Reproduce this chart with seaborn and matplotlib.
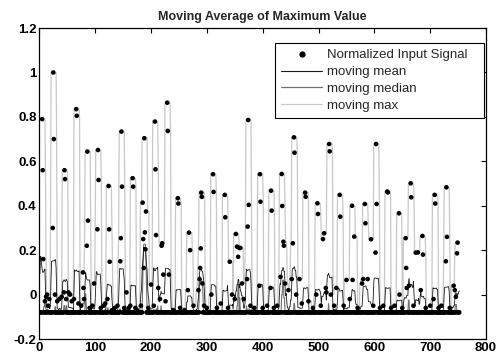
import numpy as np
import pandas as pd
import matplotlib
matplotlib.use("Agg")
import matplotlib.pyplot as plt
import seaborn as sns
from matplotlib.lines import Line2D

# --- data ---
n_samples = 752
baseline = -0.08
window = 10

event_idx = [5, 6, 7, 10, 12, 14, 16, 18, 24, 25, 26, 28, 32, 36, 40, 44, 45, 46, 48, 52,
             55, 58, 62, 66, 67, 70, 75, 78, 79, 80, 85, 86, 87, 90, 95, 98, 104, 105, 106, 110,
             115, 118, 122, 124, 125, 126, 130, 135, 140, 145, 146, 147, 148, 152, 156, 160, 163, 167, 168, 172,
             175, 182, 185, 186, 187, 188, 189, 190, 191, 195, 200, 205, 207, 208, 209, 213, 216, 219, 220, 222,
             226, 229, 230, 232, 240, 248, 249, 252, 260, 266, 268, 270, 276, 285, 287, 288, 289, 290, 291, 292,
             295, 300, 308, 311, 312, 318, 325, 332, 333, 338, 341, 345, 350, 352, 354, 356, 358, 360, 363, 366,
             372, 373, 374, 375, 378, 385, 394, 395, 396, 400, 408, 414, 415, 416, 420, 426, 432, 434, 435, 437,
             438, 440, 446, 452, 454, 456, 457, 460, 466, 470, 476, 477, 482, 490, 496, 498, 499, 504, 508, 510,
             513, 514, 519, 520, 522, 528, 532, 538, 539, 545, 550, 556, 560, 561, 564, 570, 578, 580, 583, 584,
             588, 594, 598, 602, 603, 604, 610, 616, 623, 624, 630, 636, 644, 645, 650, 656, 657, 658, 662, 665,
             666, 670, 674, 678, 683, 686, 687, 692, 700, 706, 708, 709, 715, 720, 728, 729, 730, 735, 742, 744,
             746, 748, 749]
event_val = [0.79, 0.56, 0.16, -0.03, -0.01, 0.0, -0.05, -0.02, 0.30, 1.00, 0.70, 0.0, -0.03, -0.02, -0.01, 0.01, 0.56, 0.52, -0.02, 0.01,
             0.0, -0.03, -0.02, 0.835, 0.805, -0.04, -0.05, 0.10, 0.03, -0.02, 0.22, 0.644, 0.333, -0.06, -0.05, 0.05, 0.294, 0.651, 0.516, -0.06,
             -0.05, -0.04, -0.02, 0.489, 0.294, 0.148, -0.07, -0.06, -0.05, 0.15, 0.254, 0.734, 0.486, -0.06, 0.01, -0.06, -0.05, 0.524, 0.486, -0.06,
             -0.07, -0.05, 0.414, 0.25, 0.12, 0.704, 0.28, 0.204, 0.374, -0.06, 0.045, -0.05, 0.779, 0.564, 0.268, 0.03, -0.02, 0.22, 0.231, 0.09,
             -0.03, 0.864, 0.737, 0.09, -0.07, 0.434, 0.41, -0.06, -0.07, 0.02, 0.279, 0.20, -0.05, 0.02, 0.07, 0.12, 0.208, 0.459, 0.44, 0.05,
             -0.05, -0.06, 0.0, 0.542, 0.462, -0.06, -0.04, 0.449, 0.348, -0.06, 0.148, 0.0, -0.02, 0.273, 0.216, 0.17, 0.21, 0.21, 0.05, -0.02,
             0.07, 0.306, 0.786, 0.404, -0.05, -0.06, 0.04, 0.542, 0.418, -0.06, -0.05, 0.03, 0.468, 0.378, -0.06, -0.05, 0.08, 0.543, 0.399, 0.238,
             0.22, 0.05, 0.02, 0.07, 0.231, 0.708, 0.639, 0.0, 0.07, -0.04, 0.459, 0.44, -0.03, -0.06, 0.0, 0.411, 0.363, -0.05, 0.25, 0.276,
             0.03, 0.01, 0.678, 0.645, 0.0, -0.05, 0.03, 0.449, 0.351, -0.05, 0.066, -0.02, 0.40, 0.066, 0.261, -0.06, 0.05, 0.07, 0.408, 0.321,
             0.07, 0.249, -0.05, 0.189, 0.678, 0.408, -0.06, -0.05, 0.464, 0.46, -0.06, -0.05, 0.366, 0.0, -0.06, 0.254, 0.12, 0.03, 0.04, 0.501,
             0.438, -0.05, 0.189, 0.19, 0.02, 0.264, 0.18, -0.06, -0.05, -0.02, 0.449, 0.41, -0.06, -0.05, 0.15, 0.483, 0.26, -0.06, 0.04, 0.02,
             -0.01, 0.186, 0.234]

x_ticks = [0, 100, 200, 300, 400, 500, 600, 700, 800]
y_ticks = [-0.2, 0, 0.2, 0.4, 0.6, 0.8, 1, 1.2]
y_labels = ["-0.2", "0", "0.2", "0.4", "0.6", "0.8", "1", "1.2"]

# build signal and moving statistics
idx = np.arange(1, n_samples + 1)
signal = pd.Series(np.full(n_samples, baseline), index=idx)
signal.loc[event_idx] = event_val
roll = signal.rolling(window, center=True, min_periods=1)
df = pd.DataFrame({"x": idx, "signal": signal.values,
                   "mean": roll.mean().values,
                   "median": roll.median().values,
                   "max": roll.max().values})

sns.set_style("white")
plt.rcParams["font.family"] = ["Liberation Sans", "DejaVu Sans"]

fig = plt.figure(figsize=(4.98, 3.55), dpi=100)
ax = fig.add_axes([0.079, 0.045, 0.897, 0.876])

c_max, c_med, c_mean = "#c8c8c8", "#707070", "#1a1a1a"
sns.lineplot(data=df, x="x", y="max", ax=ax, color=c_max, linewidth=0.9, estimator=None)
sns.lineplot(data=df, x="x", y="median", ax=ax, color=c_med, linewidth=0.8, estimator=None)
sns.lineplot(data=df, x="x", y="mean", ax=ax, color=c_mean, linewidth=0.6, estimator=None)
sns.scatterplot(data=df, x="x", y="signal", ax=ax, color="black", s=11, marker="o",
                edgecolor="none", zorder=5)

ax.set_xlim(0, 800)
ax.set_ylim(-0.2, 1.2)
ax.set_xticks(x_ticks)
ax.set_yticks(y_ticks)
ax.set_xticklabels([str(t) for t in x_ticks], fontweight="bold", fontsize=9.5)
ax.set_yticklabels(y_labels, fontweight="bold", fontsize=9.5)
ax.set_xlabel("")
ax.set_ylabel("")
ax.tick_params(direction="in", length=3.5, width=0.8, top=True, right=True, pad=2, colors="black")
for sp in ax.spines.values():
    sp.set_color("black")
    sp.set_linewidth(0.9)

ax.set_title("Moving Average of Maximum Value", fontweight="bold", fontsize=9, pad=6)

handles = [Line2D([], [], linestyle="none", marker="o", markersize=3.5, color="black"),
           Line2D([], [], color=c_mean, linewidth=0.8),
           Line2D([], [], color=c_med, linewidth=0.9),
           Line2D([], [], color=c_max, linewidth=0.9)]
labels = ["Normalized Input Signal   ", "moving mean", "moving median", "moving max"]
leg = ax.legend(handles, labels, loc="upper right", bbox_to_anchor=(0.9955, 0.952),
                fontsize=9.5, frameon=True, fancybox=False,
                edgecolor="black", framealpha=1, borderpad=0.45, labelspacing=0.36,
                handlelength=3.1, handletextpad=0.35, borderaxespad=0)
leg.get_frame().set_linewidth(0.8)

fig.savefig("out.png", dpi=100)
